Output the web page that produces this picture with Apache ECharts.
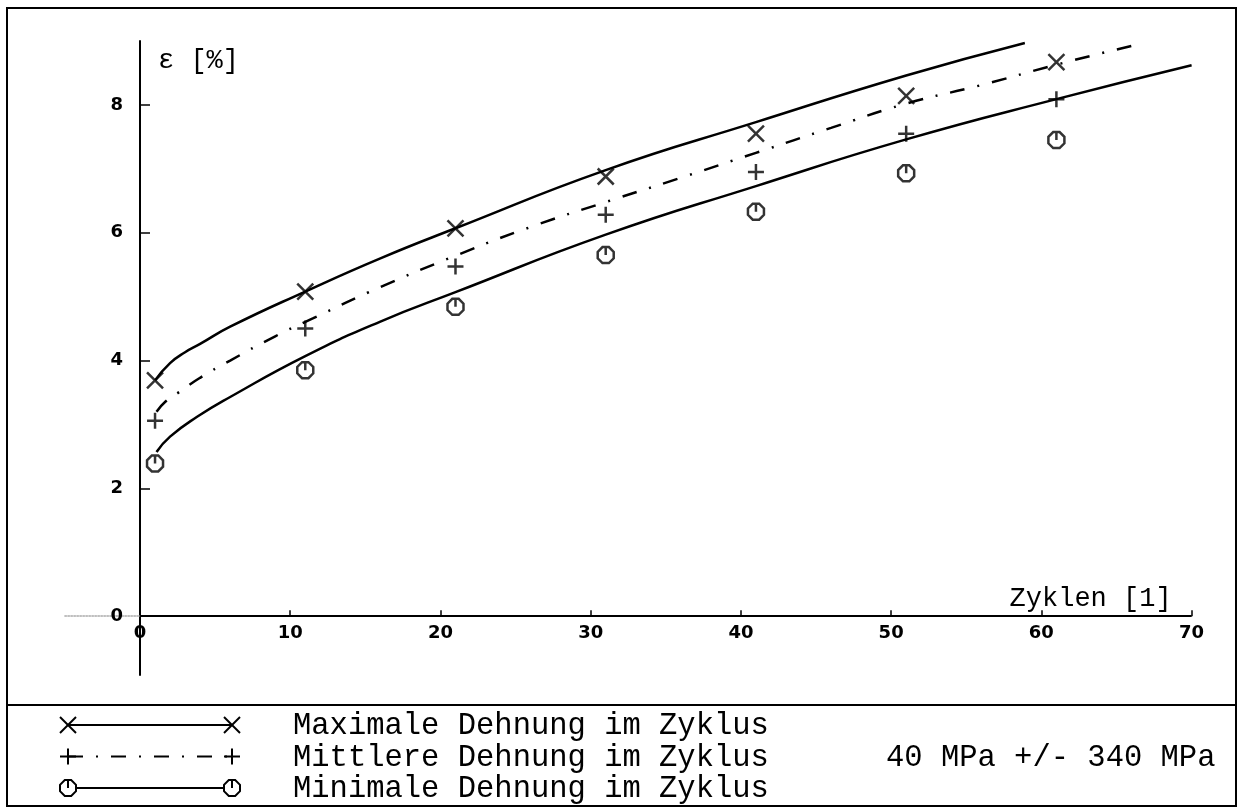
<!DOCTYPE html>
<html>
<head>
<meta charset="utf-8">
<script src="https://cdn.jsdelivr.net/npm/echarts@6/dist/echarts.min.js"></script>
<style>
  html, body { margin: 0; padding: 0; background: #fff; }
  #chart { width: 1243px; height: 808px; }
</style>
</head>
<body>
<div id="chart"></div>
<script>
// Measured strain per cycle (every 10th cycle)
const cycles = [1, 11, 21, 31, 41, 51, 61];
const epsMax = [3.69, 5.08, 6.07, 6.88, 7.55, 8.14, 8.67];
const epsMid = [3.06, 4.50, 5.47, 6.28, 6.95, 7.55, 8.09];
const epsMin = [2.39, 3.85, 4.84, 5.65, 6.33, 6.93, 7.45];

// Fitted curves (x = cycles, y = strain in %)
const fitMaxX = [1, 2, 3, 4, 6, 11, 16, 21, 31, 41, 51, 58.9];
const fitMaxY = [3.69, 3.96, 4.13, 4.26, 4.53, 5.08, 5.60, 6.07, 6.98, 7.73, 8.46, 8.97];
const fitMidX = [1.1, 1.7, 2.5, 4, 6, 9, 11.5, 16, 21, 26, 31, 36, 41, 46, 51, 56, 61, 66.3];
const fitMidY = [3.20, 3.36, 3.49, 3.73, 4.00, 4.38, 4.66, 5.15, 5.64, 6.09, 6.48, 6.86, 7.25, 7.64, 8.02, 8.31, 8.63, 8.94];
const fitMinX = [1.1, 2, 3.8, 6, 11, 16, 21, 31, 41, 51, 61, 70];
const fitMinY = [2.57, 2.81, 3.12, 3.43, 4.07, 4.61, 5.07, 5.97, 6.73, 7.46, 8.09, 8.62];

// Axis ticks and labels
const xTicks = [10, 20, 30, 40, 50, 60, 70];
const xLabels = [0, 10, 20, 30, 40, 50, 60, 70];
const yTicks = [2, 4, 6, 8];
const yLabels = [0, 2, 4, 6, 8];

// Legend texts
const seriesNames = [
  'Maximale Dehnung im Zyklus',
  'Mittlere Dehnung im Zyklus',
  'Minimale Dehnung im Zyklus'
];
const loadText = '40 MPa +/- 340 MPa';
const xName = 'Zyklen [1]';
const yName = 'ε [%]';

// Marker shapes
const SHAPE_X = 'M0,0L10,10M10,0L0,10';
const SHAPE_PLUS = 'M5,0L5,10M0,5L10,5';
const SHAPE_O = 'M3,0L7,0L10,3L10,7L7,10L3,10L0,7L0,3ZM5,0L5,5';
const DASH_DOT = [15, 13, 2, 13];

const pairs = (xs, ys) => xs.map((x, i) => [x, ys[i]]);

const monoFont = 'Liberation Mono';
const tickFont = { color: '#000', fontFamily: 'DejaVu Sans', fontWeight: 'bold', fontSize: 18 };

// Plot area geometry: value 0 of both axes sits at the crossing point
const GRID = { left: 64.9, top: 41, width: 1126.7, height: 634 };
const X_MIN = -5, X_MAX = 70, Y_MIN = -0.92, Y_MAX = 9;
const zeroX = GRID.left + (0 - X_MIN) / (X_MAX - X_MIN) * GRID.width;
const zeroY = GRID.top + (Y_MAX - 0) / (Y_MAX - Y_MIN) * GRID.height;

function fitSeries(name, xs, ys, type, markLine) {
  const s = {
    name: name,
    type: 'line',
    data: pairs(xs, ys),
    smooth: 0.5,
    showSymbol: false,
    silent: true,
    lineStyle: { color: '#000', width: 2.5, type: type, cap: 'butt' },
    z: 2
  };
  if (markLine) s.markLine = markLine;
  return s;
}

function pointSeries(name, ys, shape) {
  return {
    name: name,
    type: 'scatter',
    data: pairs(cycles, ys),
    symbol: 'path://' + shape,
    symbolSize: 16,
    silent: true,
    itemStyle: { color: 'rgba(0,0,0,0)', borderColor: '#000', borderWidth: 2.5 },
    z: 3
  };
}

// Legend marker glyphs built from plain line / polygon elements
const S = 8; // half marker size
const stroke = { stroke: '#000', lineWidth: 2, fill: 'none' };
function seg(x1, y1, x2, y2) {
  return { type: 'line', shape: { x1, y1, x2, y2 }, style: stroke, silent: true };
}
function legendMarker(kind, cx, cy) {
  if (kind === 'x') {
    return [seg(cx - S, cy - S, cx + S, cy + S), seg(cx + S, cy - S, cx - S, cy + S)];
  }
  if (kind === 'plus') {
    return [seg(cx, cy - S, cx, cy + S), seg(cx - S, cy, cx + S, cy)];
  }
  const k = S * 0.4;
  return [
    { type: 'polygon', silent: true, style: Object.assign({}, stroke, { fill: '#fff' }),
      shape: { points: [[cx - k, cy - S], [cx + k, cy - S], [cx + S, cy - k], [cx + S, cy + k],
                        [cx + k, cy + S], [cx - k, cy + S], [cx - S, cy + k], [cx - S, cy - k]] } },
    seg(cx, cy - S, cx, cy)
  ];
}

const legendRows = [
  { y: 725, kind: 'x', dash: null, text: seriesNames[0] },
  { y: 756.5, kind: 'plus', dash: DASH_DOT, text: seriesNames[1] },
  { y: 788, kind: 'o', dash: null, text: seriesNames[2] }
];
const legendX0 = 68, legendX1 = 232;

const graphics = [
  { type: 'rect', shape: { x: 7, y: 8, width: 1229, height: 798 },
    style: { fill: 'none', stroke: '#000', lineWidth: 2 }, silent: true },
  { type: 'line', shape: { x1: 7, y1: 705, x2: 1236, y2: 705 },
    style: { stroke: '#000', lineWidth: 2 }, silent: true }
];
legendRows.forEach(r => {
  graphics.push({
    type: 'line', shape: { x1: legendX0, y1: r.y, x2: legendX1, y2: r.y },
    style: { stroke: '#000', lineWidth: 2, lineDash: r.dash }, silent: true
  });
  [legendX0, legendX1].forEach(cx => {
    legendMarker(r.kind, cx, r.y).forEach(g => graphics.push(g));
  });
  graphics.push({
    type: 'text', x: 293, y: r.y + 1, silent: true,
    style: { text: r.text, fill: '#000', font: '30.5px "' + monoFont + '"', textAlign: 'left', textVerticalAlign: 'middle' }
  });
});
graphics.push({
  type: 'text', x: 886, y: 757.5, silent: true,
  style: { text: loadText, fill: '#000', font: '30.5px "' + monoFont + '"', textAlign: 'left', textVerticalAlign: 'middle' }
});

const chart = echarts.init(document.getElementById('chart'), null, { renderer: 'canvas' });
chart.setOption({
  animation: false,
  backgroundColor: '#fff',
  grid: Object.assign({ outerBoundsMode: 'none', containLabel: false }, GRID),
  xAxis: {
    type: 'value', min: X_MIN, max: X_MAX,
    axisLine: { show: true, onZero: true, lineStyle: { color: '#aaa', width: 1.5, type: 'dotted' } },
    axisTick: { show: true, inside: true, length: 6, customValues: xTicks, lineStyle: { color: '#000', width: 1.5 } },
    // labels hang just below the zero line
    axisLabel: Object.assign({ customValues: xLabels, margin: 8 - (GRID.top + GRID.height - zeroY) }, tickFont),
    splitLine: { show: false },
    name: xName, nameLocation: 'end', nameGap: -20,
    nameTextStyle: { color: '#000', fontFamily: monoFont, fontSize: 27, align: 'right', verticalAlign: 'bottom', padding: [0, 0, 4, 0] }
  },
  yAxis: {
    type: 'value', min: Y_MIN, max: Y_MAX,
    axisLine: { show: true, onZero: true, lineStyle: { color: '#000', width: 2 } },
    axisTick: { show: true, inside: true, length: 10, customValues: yTicks, lineStyle: { color: '#000', width: 1.5 } },
    // labels sit just left of the vertical axis drawn at x = 0
    axisLabel: Object.assign({ customValues: yLabels, margin: 17 - (zeroX - GRID.left) }, tickFont),
    splitLine: { show: false },
    name: yName, nameLocation: 'end', nameGap: -20,
    nameTextStyle: { color: '#000', fontFamily: monoFont, fontSize: 27, align: 'left', verticalAlign: 'middle', padding: [0, 0, 0, 18] }
  },
  series: [
    fitSeries('fitMax', fitMaxX, fitMaxY, 'solid', {
      silent: true, symbol: 'none', label: { show: false }, animation: false,
      lineStyle: { color: '#000', width: 2, type: 'solid' },
      data: [[{ coord: [0, 0] }, { coord: [70, 0] }]]
    }),
    fitSeries('fitMid', fitMidX, fitMidY, DASH_DOT),
    fitSeries('fitMin', fitMinX, fitMinY, 'solid'),
    pointSeries(seriesNames[0], epsMax, SHAPE_X),
    pointSeries(seriesNames[1], epsMid, SHAPE_PLUS),
    pointSeries(seriesNames[2], epsMin, SHAPE_O)
  ],
  graphic: graphics
});
</script>
</body>
</html>
